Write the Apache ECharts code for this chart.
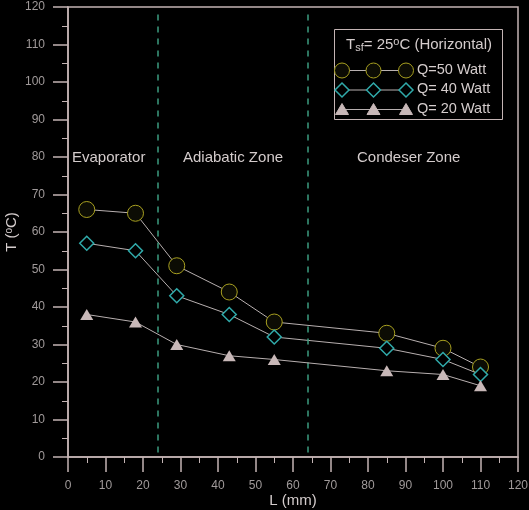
<!DOCTYPE html>
<html>
<head>
<meta charset="utf-8">
<script src="https://cdn.jsdelivr.net/npm/echarts@6/dist/echarts.min.js"></script>
<style>
html,body{margin:0;padding:0;background:#000;}
#c{width:529px;height:510px;}
</style>
</head>
<body>
<div id="c"></div>
<script>
// Data
var lengths = [5, 18, 29, 43, 55, 85, 100, 110];
var q50 = [66, 65, 51, 44, 36, 33, 29, 24];
var q40 = [57, 55, 43, 38, 32, 29, 26, 22];
var q20 = [38, 36, 30, 27, 26, 23, 22, 19];
var seriesNames = ['Q=50 Watt', 'Q= 40 Watt', 'Q= 20 Watt'];
var zoneBounds = [24, 64];
var zoneLineTop = 118;
var zoneLabels = ['Evaporator', 'Adiabatic Zone', 'Condeser Zone'];
var axisTicks = [0, 10, 20, 30, 40, 50, 60, 70, 80, 90, 100, 110, 120];

function pairs(ys){ return lengths.map(function(x,i){ return [x, ys[i]]; }); }

var axisCol = '#c4b4b4';
var labCol = '#a09a9a';
var txtCol = '#d4cccc';
var cCircle = '#a8a020';
var cDiamond = '#30aaaa';
var cTri = '#c8b8b8';
var lineCol = '#b8b0b0';
var ff = 'Liberation Sans, Arial';

var chart = echarts.init(document.getElementById('c'));

function axisCommon(){
  return {
    type: 'value', min: axisTicks[0], max: axisTicks[axisTicks.length-1], interval: 10,
    nameMoveOverlap: false,
    axisLine: {show: true, onZero: false, lineStyle: {color: axisCol, width: 1.5}},
    axisTick: {show: true, inside: false, length: 15, lineStyle: {color: axisCol, width: 1.5}},
    minorTick: {show: true, splitNumber: 2, length: 6, lineStyle: {color: axisCol, width: 1}},
    splitLine: {show: false},
    axisLabel: {color: labCol, fontSize: 12, fontFamily: ff, margin: 23}
  };
}

var xA = axisCommon();
xA.name = 'L (mm)';
xA.nameLocation = 'middle';
xA.nameGap = 36;
xA.nameTextStyle = {color: txtCol, fontSize: 15, fontFamily: ff};

var yA = axisCommon();
yA.name = '{a|T (}{s|o}{a|C)}';
yA.nameLocation = 'middle';
yA.nameGap = 48;
yA.nameTextStyle = {
  color: txtCol, fontSize: 15, fontFamily: ff,
  rich: {
    a: {color: txtCol, fontSize: 15, fontFamily: ff},
    s: {color: txtCol, fontSize: 10, fontFamily: ff, verticalAlign: 'top', padding: [0,0,6,0]}
  }
};

// legend graphic
var legX = 332, legY = 27;
var rowY = [70.5, 90, 109.5];
var mx = [342, 373.5, 406];
var g = [];
g.push({type: 'rect', left: legX, top: legY, shape: {width: 168, height: 90},
  style: {fill: 'none', stroke: axisCol, lineWidth: 1}, z: 100});
g.push({type: 'text', left: 346, top: 36, z: 100,
  style: {
    text: '{a|T}{b|sf}{a|= 25}{c|o}{a|C (Horizontal)}',
    rich: {
      a: {fill: txtCol, fontSize: 15, fontFamily: ff},
      b: {fill: txtCol, fontSize: 11, fontFamily: ff, verticalAlign: 'bottom', padding: [6,0,0,0]},
      c: {fill: txtCol, fontSize: 11, fontFamily: ff, verticalAlign: 'top', padding: [0,0,6,0]}
    }
  }
});
for (var r = 0; r < 3; r++){
  g.push({type: 'line', z: 100, shape: {x1: mx[0], y1: rowY[r], x2: mx[2], y2: rowY[r]},
    style: {stroke: lineCol, lineWidth: 1}});
  for (var k = 0; k < 3; k++){
    var cx = mx[k], cy = rowY[r];
    if (r === 0) {
      g.push({type: 'circle', z: 101, shape: {cx: cx, cy: cy, r: 7.5}, style: {fill: '#0c0c04', stroke: cCircle, lineWidth: 1}});
    } else if (r === 1) {
      g.push({type: 'polygon', z: 101, shape: {points: [[cx, cy-7],[cx+7, cy],[cx, cy+7],[cx-7, cy]]}, style: {fill: '#000', stroke: cDiamond, lineWidth: 1.5}});
    } else {
      g.push({type: 'polygon', z: 101, shape: {points: [[cx, cy-6],[cx+6.5, cy+5],[cx-6.5, cy+5]]}, style: {fill: cTri, stroke: cTri, lineWidth: 1}});
    }
  }
  g.push({type: 'text', z: 100, left: 417, top: rowY[r]-8.5,
    style: {text: seriesNames[r], fill: txtCol, fontSize: 14.5, fontFamily: ff}});
}
// zone labels
var zonePos = [[72, 150], [183, 150], [357, 150]];
zoneLabels.forEach(function(t, i){
  g.push({type: 'text', z: 100, left: zonePos[i][0], top: zonePos[i][1],
    style: {text: t, fill: txtCol, fontSize: 15, fontFamily: ff}});
});

chart.setOption({
  backgroundColor: '#000',
  animation: false,
  grid: {left: 68, right: 11, top: 7, bottom: 53, outerBoundsMode: 'none', containLabel: false,
    show: true, borderColor: axisCol, borderWidth: 1.5, backgroundColor: 'transparent'},
  xAxis: xA,
  yAxis: yA,
  graphic: g,
  series: [
    {
      name: seriesNames[0], type: 'line', data: pairs(q50),
      symbol: 'circle', symbolSize: 16,
      itemStyle: {color: '#0c0c04', borderColor: cCircle, borderWidth: 1},
      lineStyle: {color: lineCol, width: 1},
      z: 3,
      markLine: {
        silent: true, symbol: 'none', label: {show: false},
        lineStyle: {color: '#3c9c80', type: [6, 6], width: 1.5},
        data: zoneBounds.map(function(v){ return [{coord: [v, zoneLineTop]}, {coord: [v, 0]}]; })
      }
    },
    {
      name: seriesNames[1], type: 'line', data: pairs(q40),
      symbol: 'diamond', symbolSize: 14,
      itemStyle: {color: '#000', borderColor: cDiamond, borderWidth: 1.5},
      lineStyle: {color: lineCol, width: 1},
      z: 4
    },
    {
      name: seriesNames[2], type: 'line', data: pairs(q20),
      symbol: 'triangle', symbolSize: [13, 11],
      itemStyle: {color: cTri, borderColor: cTri, borderWidth: 0},
      lineStyle: {color: lineCol, width: 1},
      z: 5
    }
  ]
});
</script>
</body>
</html>
